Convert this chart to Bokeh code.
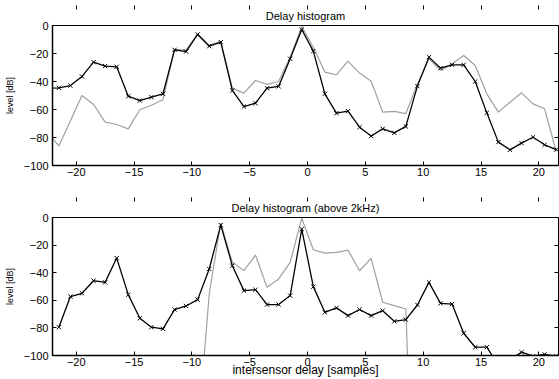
from bokeh.plotting import figure
from bokeh.models import LinearAxis, FixedTicker, Range1d, Title
from bokeh.layouts import column
from bokeh.embed import file_html
from bokeh.resources import INLINE

nan = float("nan")
FONT = "Liberation Sans"
GRAY = "#a0a0a0"

# intersensor delay positions [samples]
delay = [-22.5, -21.5, -20.5, -19.5, -18.5, -17.5, -16.5, -15.5, -14.5, -13.5,
         -12.5, -11.5, -10.5, -9.5, -8.5, -7.5, -6.5, -5.5, -4.5, -3.5,
         -2.5, -1.5, -0.5, 0.5, 1.5, 2.5, 3.5, 4.5, 5.5, 6.5,
         7.5, 8.5, 9.5, 10.5, 11.5, 12.5, 13.5, 14.5, 15.5, 16.5,
         17.5, 18.5, 19.5, 20.5, 21.5]

# top panel: Delay histogram
top_black = [-45, -44.5, -42.9, -36.4, -26.2, -29, -29.5, -50.5, -53.6, -51.2,
             -48.8, -17.4, -18.6, -6.4, -14.8, -11.9, -46.4, -57.9, -55.5, -44.8,
             -43.5, -23.8, -2.9, -18.3, -48.8, -62.6, -61.2, -72.6, -79, -73.8,
             -76.7, -72.1, -43.3, -22.6, -30.5, -28.1, -28.1, -40, -62.4, -83.3,
             -88.8, -84, -79.8, -85.2, -88.6]
top_gray = [-76, -86, -68, -50, -56.4, -69, -70.7, -73.8, -60.2, -57,
            -53, -17, -17.5, -6, -14, -11.5, -44.8, -48.3, -39.3, -42.1,
            -40, -22.6, -0.7, -15.5, -33.3, -35.2, -25.5, -34, -39.8, -61.9,
            -61.4, -63, -41.7, -23.8, -32.1, -27.4, -21.4, -28.6, -48.8, -61.9,
            -54.8, -48.1, -56, -59.5, -90]

# bottom panel: Delay histogram (above 2kHz)
bot_black = [nan, -79.5, -57.3, -54.9, -45.8, -47, -29.4, -55.9, -73, -79.5,
             -80.7, -66.7, -64.1, -59.5, -37.3, -5.5, -34.9, -53, -52.3, -63.1,
             -63.1, -56.6, -8.4, -50.1, -68.7, -65.5, -71.1, -66.7, -71.1, -67.5,
             -75.2, -74, -63.4, -47, -62.2, -62.7, -83.9, -94, -94, -107,
             -103, -97.6, -100.5, -99.2, -100.5]
bot_gray = [nan, nan, nan, nan, nan, nan, nan, nan, nan, nan,
            nan, nan, nan, -160, -55.4, -4, -32.5, -38.5, -27.2, -50.6,
            -44.5, -32.5, -0.5, -23.4, -25.8, -25.3, -23.6, -38.6, -29.6, -61.4,
            -63.9, -66.3, -300, nan, nan, nan, nan, nan, nan, nan,
            nan, nan, nan, nan, nan]

x_ticks = [-20, -15, -10, -5, 0, 5, 10, 15, 20]
y_ticks = [-100, -80, -60, -40, -20, 0]
x_range = (-22.05, 21.70)
y_range = (-100, 0)


def lbl(v):
    return ("\u2212" + str(abs(v))) if v < 0 else str(v)


def panel(title, black, gray, height, top, bottom, xlabel=None):
    p = figure(width=559, height=height, output_backend="svg", toolbar_location=None,
               title=None, x_range=Range1d(*x_range), y_range=Range1d(*y_range),
               min_border_left=52, min_border_right=1,
               min_border_top=top, min_border_bottom=bottom)
    p.background_fill_color = "white"
    p.border_fill_color = "white"
    p.outline_line_color = "black"
    p.outline_line_width = 1
    p.xgrid.visible = False
    p.ygrid.visible = False

    p.add_layout(Title(text=title, align="center", vertical_align="middle",
                       text_font=FONT, text_font_size="11px",
                       text_font_style="normal", text_color="black",
                       standoff=6), "above")

    for ax, ticks in ((p.xaxis[0], x_ticks), (p.yaxis[0], y_ticks)):
        ax.ticker = FixedTicker(ticks=ticks)
        ax.major_label_overrides = {v: lbl(v) for v in ticks}
        ax.major_tick_in = 4
        ax.major_tick_out = 0
        ax.minor_tick_in = 0
        ax.minor_tick_out = 0
        ax.axis_line_width = 1.5
        ax.major_tick_line_width = 1
        ax.major_label_text_font = FONT
        ax.major_label_text_font_size = "11px"
        ax.major_label_text_color = "black"
    p.xaxis[0].major_label_standoff = 2
    p.yaxis[0].major_label_standoff = 4
    p.yaxis[0].axis_label = "level [dB]"
    p.yaxis[0].axis_label_text_font = FONT
    p.yaxis[0].axis_label_text_font_size = "9px"
    p.yaxis[0].axis_label_text_font_style = "normal"
    p.yaxis[0].axis_label_text_color = "black"
    p.yaxis[0].axis_label_standoff = 6
    if xlabel:
        p.xaxis[0].axis_label = xlabel
        p.xaxis[0].axis_label_text_font = FONT
        p.xaxis[0].axis_label_text_font_size = "12px"
        p.xaxis[0].axis_label_text_font_style = "normal"
        p.xaxis[0].axis_label_text_color = "black"
        p.xaxis[0].axis_label_standoff = -6

    for loc, ticks, so in (("above", x_ticks, 2), ("right", y_ticks, 0)):
        a = LinearAxis(ticker=FixedTicker(ticks=ticks),
                       major_label_overrides={v: "" for v in ticks},
                       major_label_text_font_size="1px", major_label_standoff=so,
                       major_tick_in=4, major_tick_out=0,
                       minor_tick_in=0, minor_tick_out=0,
                       axis_line_color=None)
        p.add_layout(a, loc)

    p.line(delay, gray, line_color=GRAY, line_width=1.2)
    p.line(delay, black, line_color="black", line_width=1.3)
    p.scatter(delay, black, marker="x", size=6, line_color="black", line_width=1)
    return p


p1 = panel("Delay histogram", top_black, top_gray, 190, 25, 25)
p2 = panel("Delay histogram (above 2kHz)", bot_black, bot_gray, 189, 27, 24,
           xlabel="intersensor delay [samples]")

layout = column(p1, p2)
with open("out.html", "w", encoding="utf-8") as f:
    f.write(file_html(layout, INLINE))
